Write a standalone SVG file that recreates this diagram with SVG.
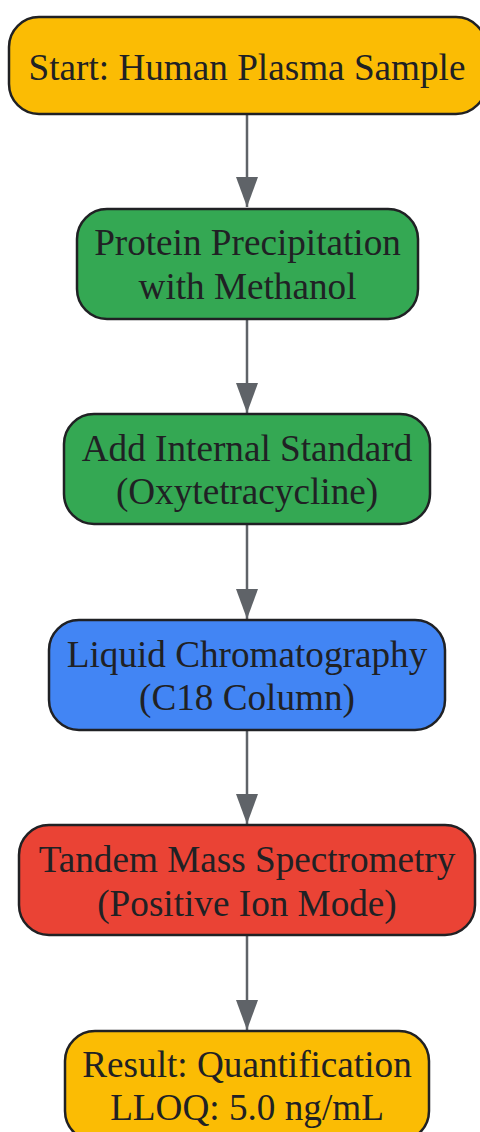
<svg xmlns="http://www.w3.org/2000/svg" width="480" height="1132" viewBox="0 0 480 1132">
<style>
.box{stroke:#202124;stroke-width:2.5}
.t{font-family:"Liberation Serif","Times New Roman",serif;font-size:37.2px;fill:#202124;text-anchor:middle}
.edge{stroke:#5f6368;stroke-width:2.5;fill:none}
.y{fill:#FBBC04}.g{fill:#34A853}.b{fill:#4285F4}.r{fill:#EA4335}
</style>
<defs>
<marker id="ah" markerUnits="userSpaceOnUse" markerWidth="30" markerHeight="22" refX="30" refY="11" orient="auto" viewBox="0 0 30 22">
<path d="M0,0 L30,11 L0,22 Z" fill="#5f6368"/>
</marker>
</defs>
<rect width="480" height="1132" fill="#ffffff"/>
<g id="edges">
<line class="edge" x1="247" y1="114" x2="247" y2="207" marker-end="url(#ah)"/>
<line class="edge" x1="247" y1="319" x2="247" y2="413" marker-end="url(#ah)"/>
<line class="edge" x1="247" y1="524" x2="247" y2="619" marker-end="url(#ah)"/>
<line class="edge" x1="247" y1="730" x2="247" y2="824" marker-end="url(#ah)"/>
<line class="edge" x1="247" y1="935" x2="247" y2="1030" marker-end="url(#ah)"/>
</g>
<g id="start">
<rect class="box y" x="9" y="17" width="477" height="97" rx="30"/>
<text class="t" x="247" y="80">Start: Human Plasma Sample</text>
</g>
<g id="precip">
<rect class="box g" x="77" y="209" width="341" height="110" rx="30"/>
<text class="t" x="247.5" y="255">Protein Precipitation</text>
<text class="t" x="247.5" y="298.5">with Methanol</text>
</g>
<g id="istd">
<rect class="box g" x="64" y="414" width="366" height="110" rx="30"/>
<text class="t" x="247" y="460.5">Add Internal Standard</text>
<text class="t" x="247" y="504">(Oxytetracycline)</text>
</g>
<g id="lc">
<rect class="box b" x="49" y="620" width="396" height="110" rx="30"/>
<text class="t" x="247" y="667">Liquid Chromatography</text>
<text class="t" x="247" y="710">(C18 Column)</text>
</g>
<g id="ms">
<rect class="box r" x="19" y="825" width="456" height="110" rx="30"/>
<text class="t" x="247" y="872">Tandem Mass Spectrometry</text>
<text class="t" x="247" y="915.5">(Positive Ion Mode)</text>
</g>
<g id="result">
<rect class="box y" x="65" y="1031" width="364" height="110" rx="30"/>
<text class="t" x="247" y="1077">Result: Quantification</text>
<text class="t" x="247" y="1120">LLOQ: 5.0 ng/mL</text>
</g>
</svg>
